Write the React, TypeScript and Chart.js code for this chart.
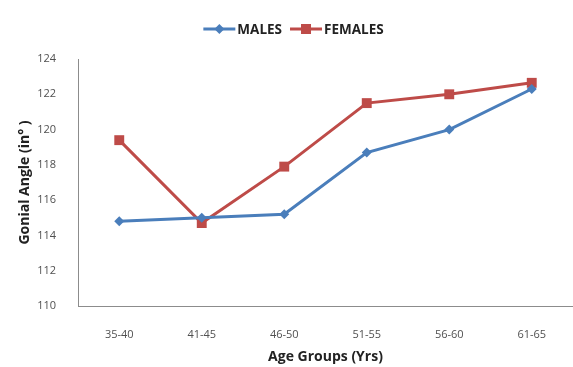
import React, { useEffect, useRef } from "react";
import { Chart, registerables } from "chart.js";

Chart.register(...registerables);

const ageGroups = ["35-40", "41-45", "46-50", "51-55", "56-60", "61-65"];
const males = [114.8, 115.0, 115.2, 118.7, 120.0, 122.3];
const females = [119.4, 114.7, 117.9, 121.5, 122.0, 122.65];
const seriesNames = ["MALES", "FEMALES"];

const BLUE = "#4A7EBB";
const RED = "#BE4B48";
const AXIS = "#8c8c8c";
const TEXT = "#505050";
const FONT = "'Open Sans', 'Liberation Sans', Arial, sans-serif";

// Legend drawn as line + marker swatches centred above the plot
const lineLegend = {
  id: "lineLegend",
  afterDraw(chart: any) {
    const ctx = chart.ctx;
    const y = 29;
    ctx.save();
    ctx.font = `bold 13.5px ${FONT}`;
    ctx.textBaseline = "middle";
    const lineLen = 32;
    const gap = 2;
    const itemGap = 8;
    const items = chart.data.datasets.map((ds: any) => ({
      label: ds.label,
      color: ds.borderColor,
      style: ds.pointStyle,
      w: lineLen + gap + ctx.measureText(ds.label).width,
    }));
    const total = items.reduce((s: number, it: any) => s + it.w, 0) + itemGap * (items.length - 1);
    let x = chart.width / 2 - total / 2 + 7;
    for (const it of items) {
      ctx.strokeStyle = it.color;
      ctx.lineWidth = 3;
      ctx.beginPath();
      ctx.moveTo(x, y);
      ctx.lineTo(x + lineLen, y);
      ctx.stroke();
      ctx.fillStyle = it.color;
      const cx = x + lineLen / 2;
      if (it.style === "rectRot") {
        const r = 5;
        ctx.beginPath();
        ctx.moveTo(cx, y - r);
        ctx.lineTo(cx + r, y);
        ctx.lineTo(cx, y + r);
        ctx.lineTo(cx - r, y);
        ctx.closePath();
        ctx.fill();
      } else {
        ctx.fillRect(cx - 5, y - 5, 10, 10);
      }
      ctx.fillStyle = "#222";
      ctx.fillText(it.label, x + lineLen + gap, y + 1);
      x += it.w + itemGap;
    }
    ctx.restore();
  },
};

export default function App() {
  const ref = useRef<HTMLCanvasElement>(null);

  useEffect(() => {
    if (!ref.current) return;
    const chart = new Chart(ref.current, {
      type: "line",
      data: {
        labels: ageGroups,
        datasets: [
          {
            label: seriesNames[0],
            data: males,
            borderColor: BLUE,
            backgroundColor: BLUE,
            borderWidth: 3,
            pointStyle: "rectRot",
            pointRadius: 5,
            pointBorderWidth: 0,
            tension: 0,
          },
          {
            label: seriesNames[1],
            data: females,
            borderColor: RED,
            backgroundColor: RED,
            borderWidth: 3,
            pointStyle: "rect",
            pointRadius: 7,
            pointBorderWidth: 0,
            tension: 0,
          },
        ],
      },
      options: {
        animation: false,
        responsive: false,
        devicePixelRatio: 1,
        layout: { autoPadding: false, padding: { top: 59, left: 0, right: 0, bottom: 0 } },
        plugins: {
          legend: { display: false },
          tooltip: { enabled: false },
        },
        scales: {
          x: {
            offset: true,
            grid: { display: false },
            border: { display: true, color: AXIS, width: 1 },
            ticks: {
              padding: 14,
              color: TEXT,
              font: { family: FONT, size: 11 },
              maxRotation: 0,
            },
            title: {
              display: true,
              text: "Age Groups (Yrs)",
              color: "#222",
              font: { family: FONT, size: 14, weight: "bold" },
              padding: { top: 0, bottom: 2 },
            },
            afterFit: (s: any) => {
              s.height = 61;
              s.paddingLeft = 0;
              s.paddingRight = 0;
            },
          },
          y: {
            min: 110,
            max: 124,
            grid: { display: false },
            border: { display: true, color: AXIS, width: 1 },
            ticks: {
              stepSize: 2,
              padding: 14,
              color: TEXT,
              font: { family: FONT, size: 11 },
            },
            title: {
              display: true,
              text: "Gonial Angle (in° )",
              color: "#222",
              font: { family: FONT, size: 14, weight: "bold" },
              padding: { top: 17, bottom: 0 },
            },
            afterFit: (s: any) => {
              s.width = 78;
            },
          },
        },
      },
      plugins: [lineLegend],
    });
    return () => chart.destroy();
  }, []);

  return (
    <div style={{ position: "absolute", left: 0, top: 0, width: 573, height: 367, background: "#fff" }}>
      <canvas ref={ref} width={573} height={367} style={{ width: 573, height: 367, display: "block" }} />
    </div>
  );
}
